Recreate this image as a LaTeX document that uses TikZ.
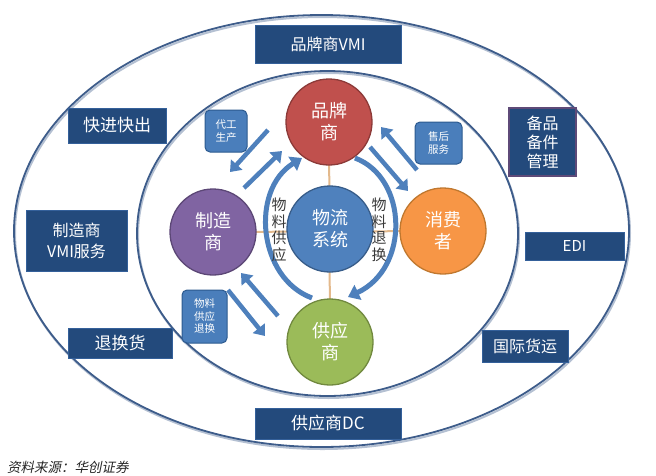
\documentclass[tikz,border=0pt]{standalone}
\usepackage{fontspec}
\setmainfont{Noto Sans CJK SC}
\newfontfamily\cjkit[FakeSlant=0.2]{Noto Sans CJK SC}
\usetikzlibrary{arrows.meta}
\definecolor{navy}{HTML}{234A7C}
\definecolor{navyedge}{HTML}{34609A}
\definecolor{purpedge}{HTML}{5E4A78}
\definecolor{smallfill}{HTML}{4A7EBB}
\definecolor{smalledge}{HTML}{2C5A8F}
\definecolor{arrowblue}{HTML}{4E80BC}
\definecolor{tanline}{HTML}{E3B98C}
\definecolor{ellblue}{HTML}{3D5C8A}
\definecolor{ellshadow}{HTML}{B4C0D2}
\definecolor{labelgray}{HTML}{3A3A3A}
\definecolor{redfill}{HTML}{C0504D}
\definecolor{rededge}{HTML}{8C3A38}
\definecolor{purpfill}{HTML}{8064A2}
\definecolor{purpcirc}{HTML}{5C4776}
\definecolor{bluefill}{HTML}{4F81BD}
\definecolor{blueedge}{HTML}{385D8A}
\definecolor{orangefill}{HTML}{F79646}
\definecolor{orangeedge}{HTML}{C0782F}
\definecolor{greenfill}{HTML}{9BBB59}
\definecolor{greenedge}{HTML}{71893F}
\begin{document}
\begin{tikzpicture}[x=1pt,y=-1pt,
  navybox/.style={draw=navyedge, fill=navy, text=white, inner sep=0pt, line width=1pt,
    font=\fontsize{16}{19}\selectfont, align=center},
  smallbox/.style={draw=smalledge, fill=smallfill, rounded corners=5pt, text=white,
    font=\fontsize{10.5}{12.5}\selectfont, align=center, line width=1pt, inner sep=0pt},
  circ/.style={circle, minimum size=86pt, inner sep=0pt, line width=1.3pt, text=white,
    font=\fontsize{18}{22}\selectfont, align=center},
  bigarrow/.style={draw=arrowblue, line width=4.5pt, -{Triangle[length=10pt,width=15pt]}},
  arcarrow/.style={draw=arrowblue, line width=5pt, -{Triangle[length=11pt,width=16pt]}},
  crossline/.style={draw=tanline, line width=2pt},
  ellipseline/.style={draw=ellblue, line width=1.8pt},
  ellipseshadow/.style={draw=ellshadow, line width=2pt},
  vlabel/.style={text=labelgray, font=\fontsize{15}{16.5}\selectfont, align=center, inner sep=0pt}
]
\useasboundingbox (0,0) rectangle (656,475);

% ellipses
\draw[ellipseshadow] (322.5,233) ellipse [x radius=307.5, y radius=216];
\draw[ellipseline] (321.5,231) ellipse [x radius=307.5, y radius=216];
\draw[ellipseshadow] (328.5,235.5) ellipse [x radius=190.5, y radius=162.5];
\draw[ellipseline] (327.5,233.5) ellipse [x radius=190.5, y radius=162.5];

% circle centres
\coordinate (cB) at (329,122);
\coordinate (cM) at (213,232);
\coordinate (cL) at (330,229);
\coordinate (cC) at (443,231);
\coordinate (cS) at (330,342);

\draw[crossline] (cB) -- (cS);
\draw[crossline] (cM) -- (cC);

% circles
\node[circ, fill=redfill, draw=rededge] (brand) at (cB) {品牌\\商};
\node[circ, fill=purpfill, draw=purpcirc] (maker) at (cM) {制造\\商};
\node[circ, fill=bluefill, draw=blueedge] (logis) at (cL) {物流\\系统};
\node[circ, fill=orangefill, draw=orangeedge] (consumer) at (cC) {消费\\者};
\node[circ, fill=greenfill, draw=greenedge] (supplier) at (cS) {供应\\商};

% arrow end points
\coordinate (a1s) at (268,130); \coordinate (a1e) at (230,172);
\coordinate (a2s) at (244,188); \coordinate (a2e) at (282,151);
\coordinate (a3s) at (417,170); \coordinate (a3e) at (381,127);
\coordinate (a4s) at (370,147); \coordinate (a4e) at (408,191);
\coordinate (a5s) at (278,316); \coordinate (a5e) at (241,273);
\coordinate (a6s) at (228,290); \coordinate (a6e) at (265,336);
\coordinate (lArcS) at (312,298); \coordinate (lArcE) at (302,158);
\coordinate (rArcS) at (355,158); \coordinate (rArcE) at (348,297);

\draw[bigarrow] (a1s) -- (a1e);
\draw[bigarrow] (a2s) -- (a2e);
\draw[bigarrow] (a3s) -- (a3e);
\draw[bigarrow] (a4s) -- (a4e);
\draw[bigarrow] (a5s) -- (a5e);
\draw[bigarrow] (a6s) -- (a6e);
\draw[arcarrow] (lArcS) .. controls (258,278) and (250,190) .. (lArcE);
\draw[arcarrow] (rArcS) .. controls (408,178) and (410,268) .. (rArcE);

% vertical labels
\node[vlabel] (supplyLbl) at (279,230) {物\\料\\供\\应};
\node[vlabel] (returnLbl) at (379,230) {物\\料\\退\\换};

% small boxes
\node[smallbox, minimum width=42pt, minimum height=42pt] (oem) at (226,131) {代工\\生产};
\node[smallbox, minimum width=47pt, minimum height=42pt] (aftersale) at (438.5,143) {售后\\服务};
\node[smallbox, minimum width=45pt, minimum height=53pt] (matbox) at (204.5,316.5) {物料\\供应\\退换};

% navy boxes
\node[navybox, minimum width=146pt, minimum height=38pt] (bvmi) at (328,44) {品牌商VMI};
\node[navybox, minimum width=98pt, minimum height=35pt, font=\fontsize{17}{20}\selectfont] (fast) at (117,125.5) {快进快出};
\node[navybox, draw=purpedge, line width=1.5pt, minimum width=67pt, minimum height=68pt] (spare) at (542.5,142) {备品\\备件\\管理};
\node[navybox, minimum width=101pt, minimum height=61pt, font=\fontsize{16}{21}\selectfont] (mvmi) at (76.5,240.5) {制造商\\VMI服务};
\node[navybox, minimum width=99pt, minimum height=28pt, font=\fontsize{15}{18}\selectfont] (edi) at (574.5,246) {EDI};
\node[navybox, minimum width=104pt, minimum height=30pt, font=\fontsize{17}{20}\selectfont] (ret) at (120,343) {退换货};
\node[navybox, minimum width=86pt, minimum height=32pt] (intl) at (525,346) {国际货运};
\node[navybox, minimum width=146pt, minimum height=31pt, font=\fontsize{17}{20}\selectfont] (sdc) at (328,423.5) {供应商DC};

% source
\node[anchor=west, inner sep=0pt, text=black!85, font=\fontsize{13.5}{15}\selectfont\cjkit] (src) at (7,467) {资料来源：华创证券};
\end{tikzpicture}
\end{document}
